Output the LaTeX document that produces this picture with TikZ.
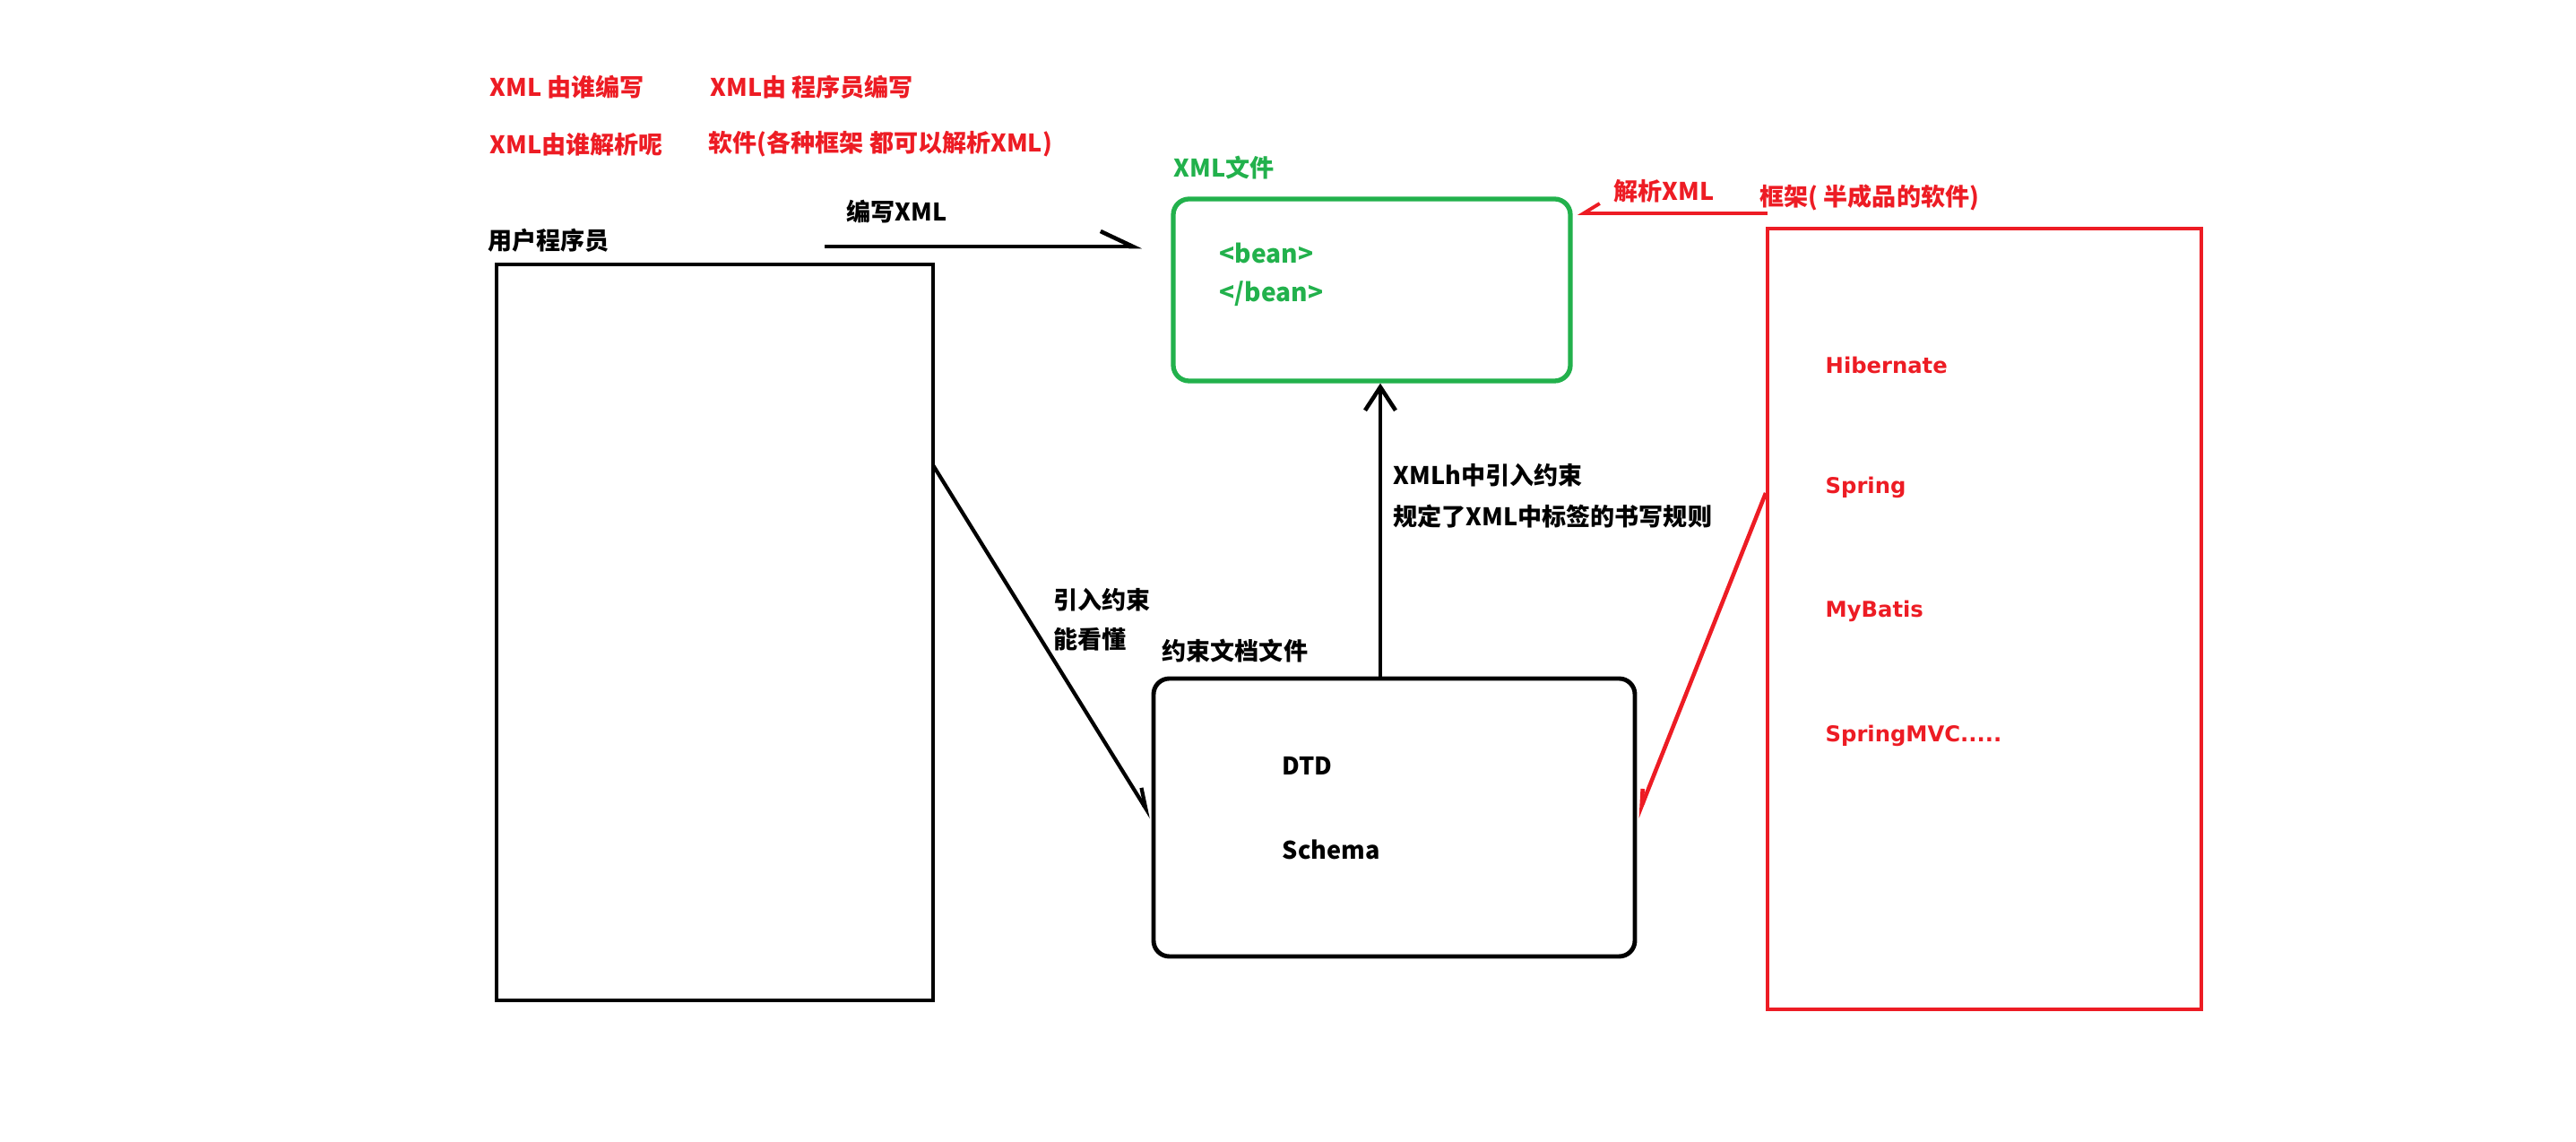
\documentclass[tikz,border=0pt]{standalone}
\usepackage{fontspec}
\setmainfont{Noto Sans CJK SC}
\newfontfamily\fwfont{DejaVu Sans}
\usetikzlibrary{arrows.meta, positioning}
\definecolor{pred}{HTML}{ED1C24}
\definecolor{pgreen}{HTML}{22B14C}

\begin{document}
\begin{tikzpicture}[
  x=1cm, y=-1cm,
  every node/.style={font=\fontsize{7.7pt}{9pt}\selectfont\bfseries, inner sep=0pt, anchor=west},
  ubox/.style={rectangle, draw=black, line width=1.3pt, minimum width=4.87cm, minimum height=8.21cm, anchor=center},
  xbox/.style={rectangle, rounded corners=5pt, draw=pgreen, line width=1.5pt, minimum width=4.43cm, minimum height=2.03cm, anchor=center},
  rbox/.style={rectangle, rounded corners=5pt, draw=black, line width=1.4pt, minimum width=5.37cm, minimum height=3.10cm, anchor=center},
  kbox/.style={rectangle, draw=pred, line width=1.3pt, minimum width=4.84cm, minimum height=8.71cm, anchor=center},
  rlbl/.style={text=pred},
  glbl/.style={text=pgreen},
  flbl/.style={text=pred, font=\fwfont\fontsize{6.9pt}{8pt}\selectfont\bfseries},
]
\useasboundingbox (0,0) rectangle (28.74,12.74);

% Questions
\node[rlbl] (q1) at (5.46, 0.97) {XML 由谁编写};
\node[rlbl] (a1) at (7.92, 0.97) {XML由 程序员编写};
\node[rlbl] (q2) at (5.46, 1.61) {XML由谁解析呢};
\node[rlbl] (a2) at (7.90, 1.61) {软件(各种框架 都可以解析XML)};

% Boxes
\node[ubox] (coder) at (7.975, 7.055) {};
\node[xbox] (xml) at (15.305, 3.235) {};
\node[rbox] (rule) at (15.555, 9.12) {};
\node[kbox] (fw) at (22.14, 6.905) {};

% Box titles
\node (tcoder) at (5.44, 2.68) {用户程序员};
\node[glbl] (txml) at (13.09, 1.87) {XML文件};
\node (trule) at (12.96, 7.26) {约束文档文件};
\node[rlbl] (tfw) at (19.63, 2.20) {框架( 半成品的软件)};

% Box contents
\node[glbl, font=\fontsize{8pt}{9pt}\selectfont\bfseries] (b1) at (13.60, 2.82) {<bean>};
\node[glbl, font=\fontsize{8pt}{9pt}\selectfont\bfseries] (b2) at (13.60, 3.28) {</bean>};
\node (dtd) at (14.30, 8.54) {DTD};
\node (xsd) at (14.30, 9.48) {Schema};
\node[flbl] (f1) at (20.36, 4.07) {Hibernate};
\node[flbl] (f2) at (20.36, 5.44) {Spring};
\node[flbl] (f3) at (20.36, 6.82) {MyBatis};
\node[flbl] (f4) at (20.36, 8.21) {SpringMVC.....};

% Edge labels
\node (lw) at (9.44, 2.36) {编写XML};
\node[rlbl] (lp) at (18.00, 2.13) {解析XML};
\node (lx1) at (15.54, 5.30) {XMLh中引入约束};
\node (lx2) at (15.54, 5.76) {规定了XML中标签的书写规则};
\node (lc1) at (11.75, 6.69) {引入约束};
\node (lc2) at (11.75, 7.13) {能看懂};

% Connections
\coordinate (w1) at (9.20, 2.75);
\coordinate (w2) at (12.74, 2.75);
\coordinate (c1) at (10.41, 5.19);
\coordinate (up) at (15.40, 7.57);
\coordinate (p1) at (19.72, 2.38);
\coordinate (p2) at (19.70, 5.50);
\draw[line width=1.3pt, -{Straight Barb[left, length=3.6mm, width=3.4mm]}] (w1) -- (w2);
\draw[line width=1.2pt, -{Straight Barb[left, length=2.2mm, width=1.6mm]}] (c1) -- (rule.west);
\draw[line width=1.3pt, -{Straight Barb[length=2.6mm, width=3.4mm]}] (up) -- (up |- xml.south);
\draw[pred, line width=1.1pt, -{Straight Barb[right, length=1.8mm, width=2.2mm]}] (p1) -- ([xshift=1.5pt]p1 -| xml.east);
\draw[pred, line width=1.3pt, -{Straight Barb[right, length=1.8mm, width=1.2mm]}] (p2) -- (rule.east);

\end{tikzpicture}
\end{document}
